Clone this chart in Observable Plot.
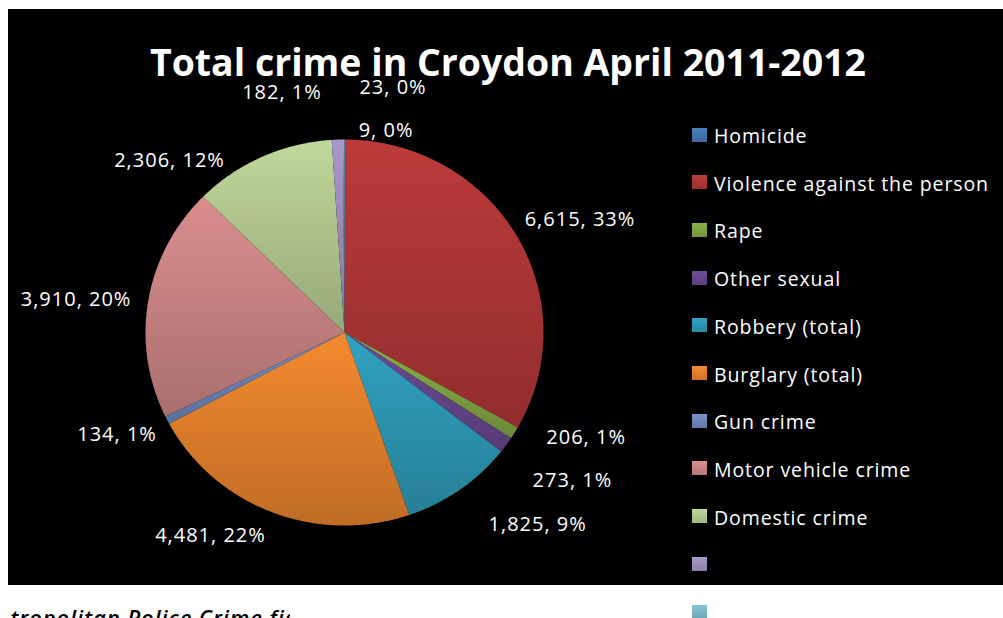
<!DOCTYPE html>
<html><head><meta charset="utf-8">
<script src="https://cdn.jsdelivr.net/npm/d3@7"></script>
<script src="https://cdn.jsdelivr.net/npm/@observablehq/plot@0.6"></script>
<style>
html,body{margin:0;padding:0;background:#fff;width:1003px;height:618px;overflow:hidden;position:relative;font-family:"Open Sans",sans-serif;}
#box{position:absolute;left:8px;top:9px;width:995px;height:576px;background:#000;}
#chart{position:absolute;left:0;top:0;}
#title{position:absolute;left:150px;top:42px;color:#fff;font-weight:700;font-size:38px;line-height:1;white-space:nowrap;transform-origin:0 0;}
.sw{position:absolute;left:692px;width:15px;height:14px;}
.lt{position:absolute;left:714px;color:#fff;font-size:19.5px;letter-spacing:0.9px;line-height:1;white-space:nowrap;}
#capbox{position:absolute;left:11px;top:590px;width:279px;height:40px;overflow:hidden;}
#caption{position:absolute;left:-33px;top:16px;font-style:italic;font-weight:600;font-size:22px;letter-spacing:0.9px;line-height:1;white-space:nowrap;color:#000;}
</style></head>
<body>
<div id="box"></div>
<div id="chart"></div>
<div id="title">Total crime in Croydon April 2011-2012</div>
<div id="legend"></div>
<div id="capbox"><div id="caption">Metropolitan Police Crime figures</div></div>
<script>
// ---- data ----
const categories = ["Homicide","Violence against the person","Rape","Other sexual","Robbery (total)","Burglary (total)","Gun crime","Motor vehicle crime","Domestic crime","",""];
const values = [9,6615,206,273,1825,4481,134,3910,2306,182,23];
// ---- styles / layout ----
const colors = ["#4A7EBB","#BC3A3A","#8CB04A","#6E4C96","#31A3C1","#F58A30","#7390C8","#DA8E8E","#C0D89A","#A898C8","#85C5D8"];
// label placement (polar: degrees clockwise from top, distance in pie radii)
const labelAngle = [11.3, 63.7, 114.1, 123.9, 135.7, 212.6, 245.1, 277.3, 315.3, 345.8, 10.9];
const labelDist  = [1.066, 1.32, 1.33, 1.38, 1.39, 1.25, 1.26, 1.36, 1.25, 1.28, 1.29];

const total = d3.sum(values);
const arcs = d3.pie().sort(null).value(d => d)(values);
const poly = [];
arcs.forEach((a, i) => {
  poly.push({k: i, x: 0, y: 0});
  const n = Math.max(2, Math.ceil((a.endAngle - a.startAngle) / (Math.PI / 360)));
  for (let j = 0; j <= n; j++) {
    const t = a.startAngle + (a.endAngle - a.startAngle) * j / n;
    poly.push({k: i, x: Math.sin(t), y: Math.cos(t)});
  }
  poly.push({k: i, x: 0, y: 0});
});
const fmt = d3.format(",");
const labels = values.map((v, i) => {
  const t = labelAngle[i] * Math.PI / 180;
  return {k: i, x: labelDist[i] * Math.sin(t), y: labelDist[i] * Math.cos(t),
          text: fmt(v) + ", " + Math.round(v / total * 100) + "%"};
});

const plot = Plot.plot({
  width: 1003, height: 618, margin: 0,
  style: {background: "transparent", overflow: "visible"},
  x: {domain: [-1, 1], range: [145, 543], axis: null},
  y: {domain: [-1, 1], range: [525, 139], axis: null},
  color: {type: "ordinal", domain: d3.range(values.length), range: colors},
  marks: [
    Plot.line(poly, {x: "x", y: "y", z: "k", fill: "k", stroke: "none", curve: "linear"}),
    Plot.text(labels, {x: "x", y: "y", text: "text", fill: "white", fontSize: 20,
      fontFamily: "Open Sans", textAnchor: "middle", lineAnchor: "middle"})
  ]
});
document.getElementById("chart").appendChild(plot);

// vertical gradient shading per slice
const ns = "http://www.w3.org/2000/svg";
const defs = document.createElementNS(ns, "defs");
plot.insertBefore(defs, plot.firstChild);
plot.querySelectorAll('g[aria-label="line"] path').forEach((p, i) => {
  const c = p.getAttribute("fill");
  const g = document.createElementNS(ns, "linearGradient");
  g.setAttribute("id", "sg" + i);
  g.setAttribute("x1", 0); g.setAttribute("y1", 0); g.setAttribute("x2", 0); g.setAttribute("y2", 1);
  [[0, c], [1, d3.color(c).darker(0.7).formatHex()]].forEach(([o, col]) => {
    const s = document.createElementNS(ns, "stop");
    s.setAttribute("offset", o); s.setAttribute("stop-color", col);
    g.appendChild(s);
  });
  defs.appendChild(g);
  p.setAttribute("fill", "url(#sg" + i + ")");
});
plot.querySelectorAll('g[aria-label="text"] text').forEach(t => t.style.letterSpacing = "1px");

// legend
const leg = document.getElementById("legend");
categories.forEach((name, i) => {
  const sw = document.createElement("div");
  sw.className = "sw";
  sw.style.top = (127.5 + i * 47.7) + "px";
  sw.style.background = `linear-gradient(${colors[i]}, ${d3.color(colors[i]).darker(0.5).formatHex()})`;
  leg.appendChild(sw);
  const lt = document.createElement("div");
  lt.className = "lt";
  lt.style.top = (126 + i * 47.7) + "px";
  lt.textContent = name;
  leg.appendChild(lt);
});

// fit title width
const title = document.getElementById("title");
const w = title.getBoundingClientRect().width;
title.style.transform = `scaleX(${716 / w})`;
</script>
</body></html>
